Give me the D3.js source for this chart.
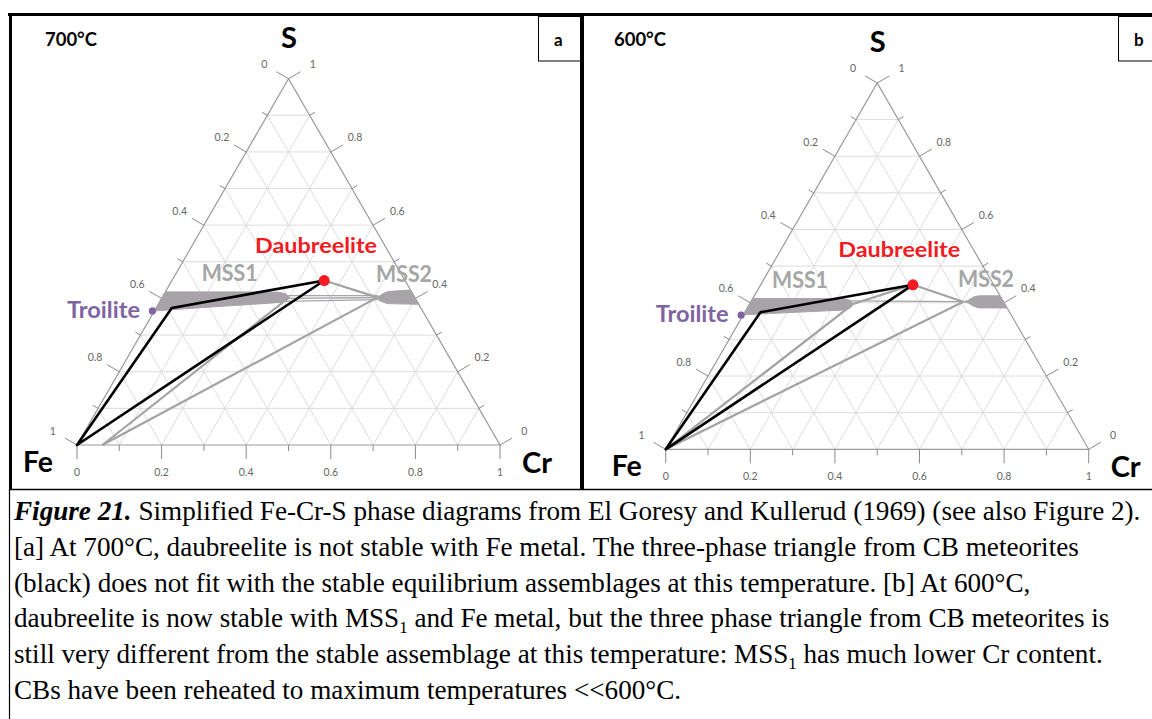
<!DOCTYPE html>
<html>
<head>
<meta charset="utf-8">
<script src="https://cdn.jsdelivr.net/npm/d3@7"></script>
<style>
  body { margin: 0; background: #fff; }
  svg { display: block; }
</style>
</head>
<body>
<script>
// compositions are [Cr, S] weight fractions, Fe = 1 - Cr - S
const tickValues = [0, 0.1, 0.2, 0.3, 0.4, 0.5, 0.6, 0.7, 0.8, 0.9, 1];
const gridValues = [0.1, 0.2, 0.3, 0.4, 0.5, 0.6, 0.7, 0.8, 0.9];

const daubreelite = [0.36, 0.449];
const troilite = [0, 0.366];
const cbTriangle = [[0, 0], [0.037, 0.374], [0.36, 0.449]];

const mss1A = [[0, 0.418], [0.20, 0.418], [0.27, 0.417], [0.288, 0.412], [0.301, 0.403],
               [0.298, 0.393], [0.285, 0.389], [0.144, 0.378], [0, 0.366]];
const mss2A = [[0.509, 0.403], [0.516, 0.412], [0.525, 0.419], [0.577, 0.423],
               [0.616, 0.384], [0.540, 0.386], [0.518, 0.394]];
const greyA = [[[0.06, 0], [0.30, 0.403]], [[0.06, 0], [0.509, 0.403]],
               [[0.36, 0.449], [0.509, 0.403]]];
const tieA = [[[0.288, 0.408], [0.508, 0.408]], [[0.299, 0.40], [0.51, 0.403]],
              [[0.291, 0.392], [0.513, 0.397]]];

const mss1B = [[0, 0.4115], [0.213, 0.4115], [0.232, 0.407], [0.245, 0.397],
               [0.243, 0.386], [0.229, 0.380], [0.12, 0.374], [0, 0.367]];
const mss2B = [[0.502, 0.403], [0.511, 0.406], [0.520, 0.416], [0.531, 0.419], [0.581, 0.419],
               [0.614, 0.386], [0.548, 0.386], [0.534, 0.39], [0.515, 0.3995]];
const greyB = [[[0, 0], [0.245, 0.396]], [[0, 0], [0.502, 0.403]],
               [[0.36, 0.449], [0.502, 0.403]], [[0.245, 0.397], [0.36, 0.449]]];
const tieB = [[[0.233, 0.405], [0.502, 0.403]]];

const captionLines = [
  [["Figure 21.", "bi"], [" Simplified Fe-Cr-S phase diagrams from El Goresy and Kullerud (1969) (see also Figure 2).", ""]],
  [["[a] At 700°C, daubreelite is not stable with Fe metal. The three-phase triangle from CB meteorites", ""]],
  [["(black) does not fit with the stable equilibrium assemblages at this temperature. [b] At 600°C,", ""]],
  [["daubreelite is now stable with MSS", ""], ["1", "sub"], [" and Fe metal, but the three phase triangle from CB meteorites is", ""]],
  [["still very different from the stable assemblage at this temperature: MSS", ""], ["1", "sub"], [" has much lower Cr content.", ""]],
  [["CBs have been reheated to maximum temperatures <<600°C.", ""]]
];

const W = 1152, H = 719;
const side = 423;
const c30 = Math.cos(Math.PI / 6), s30 = 0.5;

const svg = d3.select("body").append("svg")
    .attr("width", W)
    .attr("height", H);

const panels = [
  {fe: [77, 445], temp: "700°C", tempX: 45, tag: "a", tagX: 538.5, tagW: 43.5,
   mss1X: 124.7, mss1Y: -164, mss2X: 299, mss2Y: -163, daubX: 178, daubY: -192,
   mss1: mss1A, mss2: mss2A, grey: greyA, tie: tieA},
  {fe: [665.7, 449.3], temp: "600°C", tempX: 614, tag: "b", tagX: 1118.5, tagW: 40,
   mss1X: 106.3, mss1Y: -161.6, mss2X: 292.3, mss2Y: -162.3, daubX: 172.5, daubY: -192.3,
   mss1: mss1B, mss2: mss2B, grey: greyB, tie: tieB}
];

const fmt = d => d === 0 ? "0" : d === 1 ? "1" : d3.format(".1f")(d);

panels.forEach((p, pi) => {
  const xScale = d3.scaleLinear().domain([0, 1]).range([p.fe[0], p.fe[0] + side]);
  const yScale = d3.scaleLinear().domain([0, 1]).range([p.fe[1], p.fe[1] - side * c30]);
  const pt = d => [xScale(d[0] + d[1] / 2), yScale(d[1])];
  const line = d3.line().x(d => pt(d)[0]).y(d => pt(d)[1]);

  const g = svg.append("g");

  // grid
  const grid = [];
  gridValues.forEach(v => {
    grid.push([[0, v], [1 - v, v]]);
    grid.push([[v, 0], [v, 1 - v]]);
    grid.push([[1 - v, 0], [0, 1 - v]]);
  });
  g.selectAll(".grid").data(grid).enter().append("path")
      .attr("d", line)
      .attr("fill", "none")
      .attr("stroke", "#dcdcdc")
      .attr("stroke-width", 1);

  // edges
  g.append("path")
      .attr("d", line([[0, 0], [1, 0], [0, 1]]) + "Z")
      .attr("fill", "none")
      .attr("stroke", "#9a9a9a")
      .attr("stroke-width", 1.2);

  // ticks
  const ticks = g.append("g").attr("stroke", "#8a8a8a").attr("stroke-width", 1);
  const labels = g.append("g")
      .attr("font-family", "Lato, 'Open Sans', sans-serif")
      .attr("font-size", 10.5)
      .attr("fill", "#666")
      .attr("text-anchor", "middle");
  tickValues.forEach((v, i) => {
    const major = i % 2 === 0;
    const len = major ? 14 : 6;
    // bottom: Cr
    let a = pt([v, 0]);
    ticks.append("line").attr("x1", a[0]).attr("y1", a[1]).attr("x2", a[0]).attr("y2", a[1] + len);
    if (major) labels.append("text").attr("x", a[0]).attr("y", a[1] + 31).text(fmt(v));
    // left: Fe
    a = pt([0, 1 - v]);
    ticks.append("line").attr("x1", a[0]).attr("y1", a[1])
        .attr("x2", a[0] - c30 * len).attr("y2", a[1] - s30 * len);
    if (major) labels.append("text").attr("x", a[0] - c30 * 28).attr("y", a[1] - s30 * 28 + 3.5).text(fmt(v));
    // right: S
    a = pt([1 - v, v]);
    ticks.append("line").attr("x1", a[0]).attr("y1", a[1])
        .attr("x2", a[0] + c30 * len).attr("y2", a[1] - s30 * len);
    if (major) labels.append("text").attr("x", a[0] + c30 * 28).attr("y", a[1] - s30 * 28 + 3.5).text(fmt(v));
  });

  // phase fields
  const band = d3.line().x(d => pt(d)[0]).y(d => pt(d)[1]).curve(d3.curveLinearClosed);
  [p.mss1, p.mss2].forEach(poly => {
    g.append("path")
        .attr("d", band(poly))
        .attr("fill", "#a7a3a9")
        .attr("stroke", "#a7a3a9")
        .attr("stroke-width", 1)
        .attr("stroke-linejoin", "round");
  });

  g.selectAll(".tie").data(p.tie).enter().append("path")
      .attr("d", line)
      .attr("stroke", "#a7a3a9")
      .attr("stroke-width", 1.3);

  g.selectAll(".grey").data(p.grey).enter().append("path")
      .attr("d", line)
      .attr("stroke", "#a3a3a3")
      .attr("stroke-width", 2.2);

  g.append("path")
      .attr("d", line(cbTriangle) + "Z")
      .attr("fill", "none")
      .attr("stroke", "#000")
      .attr("stroke-width", 2.6)
      .attr("stroke-linejoin", "round");

  const dp = pt(daubreelite);
  g.append("circle").attr("cx", dp[0]).attr("cy", dp[1]).attr("r", 5.5).attr("fill", "#f21b22");
  const tp = pt(troilite);
  g.append("circle").attr("cx", tp[0] - 2).attr("cy", tp[1]).attr("r", 3.6).attr("fill", "#8064a2");

  // text labels, positioned relative to the Fe vertex
  const fx = p.fe[0], fy = p.fe[1];
  const T = (x, y, txt, size, fill, len) => {
    const t = g.append("text")
        .attr("x", x).attr("y", y)
        .attr("font-family", "Lato, 'Open Sans', sans-serif")
        .attr("font-weight", "bold")
        .attr("font-size", size)
        .attr("fill", fill)
        .text(txt);
    if (len) t.attr("textLength", len).attr("lengthAdjust", "spacingAndGlyphs");
    return t;
  };
  T(fx - 54, fy + 27, "Fe", 28, "#000", 30);
  T(fx + 445, fy + 28, "Cr", 28, "#000", 30);
  T(fx + 204, fy - 397, "S", 29, "#000", 16);
  T(fx + p.daubX, fy + p.daubY, "Daubreelite", 21, "#f21b22", 122);
  T(fx + p.mss1X, fy + p.mss1Y, "MSS1", 22, "#a6a6a6", 56);
  T(fx + p.mss2X, fy + p.mss2Y, "MSS2", 22, "#a6a6a6", 56);
  T(fx - 10, fy - 127, "Troilite", 22, "#8064a2", 73);

  svg.append("text")
      .attr("x", p.tempX).attr("y", 46)
      .attr("font-family", "Lato, 'Open Sans', sans-serif")
      .attr("font-weight", "bold")
      .attr("font-size", 19)
      .attr("textLength", 52).attr("lengthAdjust", "spacingAndGlyphs")
      .text(p.temp);

  svg.append("rect")
      .attr("x", p.tagX).attr("y", 16.5)
      .attr("width", p.tagW).attr("height", 44.5)
      .attr("fill", "#fff")
      .attr("stroke", "#000")
      .attr("stroke-width", 1);
  svg.append("text")
      .attr("x", p.tagX + 15.5).attr("y", 46)
      .attr("font-family", "Lato, 'Open Sans', sans-serif")
      .attr("font-weight", "bold")
      .attr("font-size", 17)
      .text(p.tag);
});

// frame
const frame = svg.append("g").attr("stroke", "#000").attr("fill", "none");
frame.append("line").attr("x1", 8).attr("y1", 14.5).attr("x2", W).attr("y2", 14.5).attr("stroke-width", 3);
frame.append("line").attr("x1", 10.5).attr("y1", 13).attr("x2", 10.5).attr("y2", 490).attr("stroke-width", 3);
frame.append("line").attr("x1", 582).attr("y1", 13).attr("x2", 582).attr("y2", 490).attr("stroke-width", 4);
frame.append("line").attr("x1", 9).attr("y1", 489.5).attr("x2", W).attr("y2", 489.5).attr("stroke-width", 1.5);
frame.append("line").attr("x1", 9.5).attr("y1", 489).attr("x2", 9.5).attr("y2", H).attr("stroke-width", 1.2);

// caption
const cap = svg.append("g")
    .attr("font-family", "'Liberation Serif', 'Times New Roman', serif")
    .attr("fill", "#000");
let fs = 22;
const capTexts = captionLines.map((parts, i) => {
  const t = cap.append("text").attr("x", 14).attr("y", 520 + i * 35.8);
  parts.forEach(([s, style]) => {
    const ts = t.append("tspan").text(s);
    if (style === "bi") ts.attr("font-weight", "bold").attr("font-style", "italic");
    if (style === "sub") ts.attr("class", "sub");
  });
  return t;
});
cap.attr("font-size", fs);
const w1 = capTexts[0].node().getComputedTextLength();
fs = fs * 1127 / w1;
cap.attr("font-size", fs);
capTexts.forEach(t => {
  t.selectAll("tspan.sub").attr("font-size", fs * 0.62).attr("dy", fs * 0.2);
  t.selectAll("tspan").each(function () {
    const prev = this.previousSibling;
    if (prev && prev.getAttribute && prev.getAttribute("class") === "sub") d3.select(this).attr("dy", -fs * 0.2);
  });
});
</script>
</body>
</html>
